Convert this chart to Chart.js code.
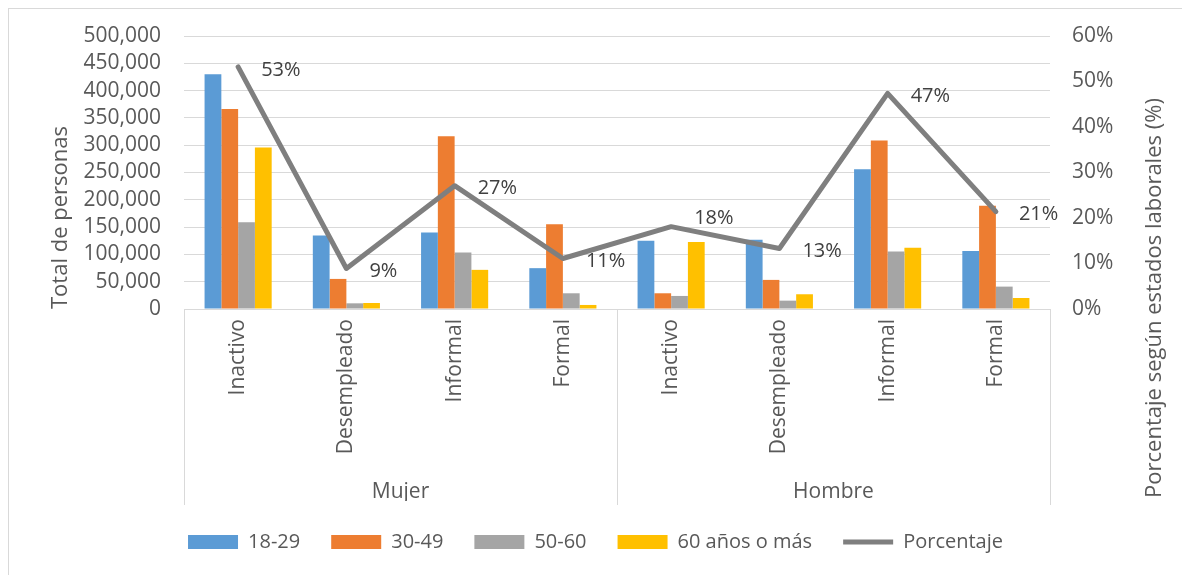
<!DOCTYPE html>
<html>
<head>
<meta charset="utf-8">
<script src="https://cdn.jsdelivr.net/npm/chart.js@4.4.1/dist/chart.umd.min.js"></script>
<style>
html, body { margin: 0; padding: 0; background: #fff; }
#wrap { position: absolute; left: 8px; top: 8px; width: 1173px; height: 566px;
  border-left: 1px solid #d9d9d9; border-top: 1px solid #d9d9d9; }
</style>
</head>
<body>
<div id="wrap"><canvas id="grafico" width="1173" height="566"></canvas></div>
<script>
// datos
const categorias = ['Inactivo', 'Desempleado', 'Informal', 'Formal', 'Inactivo', 'Desempleado', 'Informal', 'Formal'];
const grupos = ['Mujer', 'Hombre'];
const edad18_29 = [430000, 134700, 140300, 74800, 125000, 126800, 256100, 106000];
const edad30_49 = [366400, 55100, 316200, 155000, 28800, 53300, 308800, 189300];
const edad50_60 = [158700, 10400, 103500, 28800, 23900, 15300, 105300, 41000];
const edad60mas = [296000, 11000, 71700, 7400, 122600, 27000, 112100, 20200];
const porcentaje = [53.2, 8.9, 27.1, 11.1, 18.1, 13.3, 47.4, 21.4];

Chart.defaults.font.family = '"Open Sans", sans-serif';
Chart.defaults.color = '#595959';

// etiquetas de la linea, separadores del eje y titulo derecho
const extras = {
  id: 'extras',
  afterDatasetsDraw(chart) {
    const ctx = chart.ctx;
    const pts = chart.getDatasetMeta(4).data;
    ctx.save();
    ctx.font = '20px "Open Sans"';
    ctx.fillStyle = '#404040';
    ctx.textAlign = 'left';
    ctx.textBaseline = 'middle';
    pts.forEach((pt, i) => {
      let y = pt.y + 3;
      const next = pts[i + 1];
      if (next) {
        // si la linea pasa por encima de la etiqueta, subirla
        const lineY = pt.y + (next.y - pt.y) * 43 / (next.x - pt.x);
        if (Math.abs(lineY - y) < 14) y = pt.y - 8;
      }
      ctx.fillText(Math.round(porcentaje[i]) + '%', pt.x + 23, y);
    });
    ctx.restore();
  },
  afterDraw(chart) {
    const ctx = chart.ctx;
    const area = chart.chartArea;
    const x = chart.scales.x;
    const x2 = chart.scales.x2;
    ctx.save();
    ctx.strokeStyle = '#d9d9d9';
    ctx.lineWidth = 1;
    [-0.5, 3.5, 7.5].forEach(v => {
      const px = Math.round(x.getPixelForValue(v)) + 0.5;
      ctx.beginPath();
      ctx.moveTo(px, area.bottom);
      ctx.lineTo(px, x2.bottom + 4);
      ctx.stroke();
    });
    ctx.translate(1146, 289);
    ctx.rotate(-Math.PI / 2);
    ctx.font = '22px "Open Sans"';
    ctx.fillStyle = '#595959';
    ctx.textAlign = 'center';
    ctx.textBaseline = 'middle';
    ctx.fillText('Porcentaje según estados laborales (%)', 0, 0);
    ctx.restore();
  }
};

new Chart(document.getElementById('grafico'), {
  type: 'bar',
  data: {
    labels: categorias,
    datasets: [
      { label: '18-29', data: edad18_29, backgroundColor: '#5b9bd5', order: 1, pointStyle: 'rect' },
      { label: '30-49', data: edad30_49, backgroundColor: '#ed7d31', order: 1, pointStyle: 'rect' },
      { label: '50-60', data: edad50_60, backgroundColor: '#a5a5a5', order: 1, pointStyle: 'rect' },
      { label: '60 años o más', data: edad60mas, backgroundColor: '#ffc000', order: 1, pointStyle: 'rect' },
      {
        type: 'line',
        label: 'Porcentaje',
        data: porcentaje,
        yAxisID: 'y1',
        borderColor: '#7f7f7f',
        backgroundColor: '#7f7f7f',
        borderWidth: 5,
        borderCapStyle: 'round',
        borderJoinStyle: 'round',
        pointRadius: 0,
        pointStyle: 'line',
        tension: 0,
        order: 0
      }
    ]
  },
  options: {
    responsive: false,
    animation: false,
    categoryPercentage: 0.62,
    barPercentage: 1,
    layout: { padding: { top: 27, left: 0, right: 0, bottom: 13 } },
    plugins: {
      tooltip: { enabled: false },
      legend: {
        position: 'bottom',
        align: 'center',
        labels: {
          usePointStyle: true,
          pointStyleWidth: 50,
          boxHeight: 14,
          padding: 31,
          color: '#595959',
          font: { size: 20 },
          sort: (a, b) => a.datasetIndex - b.datasetIndex
        }
      }
    },
    scales: {
      x: {
        grid: { display: false, drawTicks: false },
        border: { display: false },
        ticks: { minRotation: 90, maxRotation: 90, autoSkip: false, padding: 10, font: { size: 21 } },
        afterFit: s => { s.height = 160; }
      },
      x2: {
        type: 'category',
        position: 'bottom',
        labels: grupos,
        offset: true,
        grid: { display: false, drawTicks: false },
        border: { display: false },
        ticks: { padding: 10, font: { size: 21 } },
        afterFit: s => { s.height = 32; }
      },
      y: {
        min: 0,
        max: 500000,
        ticks: { stepSize: 50000, autoSkip: false, padding: 0, font: { size: 21 }, callback: v => v.toLocaleString('en-US') },
        grid: { color: '#d9d9d9', drawTicks: true, tickLength: 23, tickColor: 'transparent' },
        border: { display: false },
        title: { display: true, text: 'Total de personas', align: 'start', padding: { top: 39, bottom: 0 }, font: { size: 22 } },
        afterFit: s => { s.width = 175; }
      },
      y1: {
        position: 'right',
        min: 0,
        max: 60,
        ticks: { stepSize: 10, autoSkip: false, padding: 0, font: { size: 21 }, callback: v => v + '%' },
        grid: { drawOnChartArea: false, drawTicks: true, tickLength: 22, tickColor: 'transparent' },
        border: { display: false },
        afterFit: s => { s.width = 132; }
      }
    }
  },
  plugins: [extras]
});
</script>
</body>
</html>
